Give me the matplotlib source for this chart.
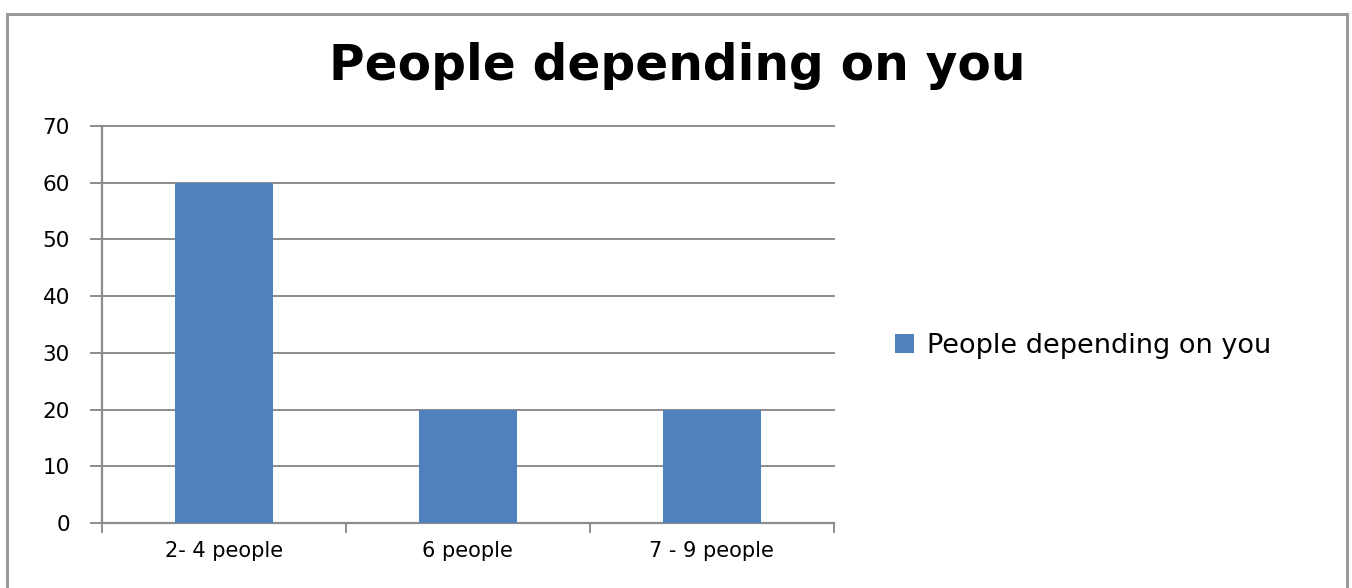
# bar chart of how many people depend on the respondent
import matplotlib as mpl
import matplotlib.pyplot as plt

# data
categories = ['2- 4 people', '6 people', '7 - 9 people']
values = [60, 20, 20]
series_name = 'People depending on you'
title = 'People depending on you'
y_ticks = [0, 10, 20, 30, 40, 50, 60, 70]

mpl.rcParams['font.family'] = 'DejaVu Sans'

fig = plt.figure(figsize=(13.52, 5.88), dpi=100)
ax = fig.add_axes([0.0754, 0.1105, 0.5414, 0.6752])

# outer chart border
fig.patches.append(mpl.patches.Rectangle((7 / 1352, -0.05), 1340 / 1352, 1.05 - 14 / 588,
                                         transform=fig.transFigure, fill=False,
                                         edgecolor='#9a9a9a', linewidth=2.2))

x = range(len(categories))
ax.bar(x, values, width=0.4, color='#4f81bd', label=series_name, zorder=3)

ax.set_xlim(-0.5, 2.5)
ax.set_ylim(0, 70)
ax.set_yticks(y_ticks)
ax.set_yticklabels([str(v) for v in y_ticks], fontsize=15.5)
ax.yaxis.grid(True, color='#8c8c8c', linewidth=1.4, zorder=0, clip_on=False)

# category labels sit between boundary ticks
ax.set_xticks([-0.5, 0.5, 1.5, 2.5])
ax.set_xticklabels([])
ax.set_xticks(list(x), minor=True)
ax.set_xticklabels(categories, minor=True, fontsize=15)
ax.tick_params(axis='x', which='minor', length=0, pad=13)
ax.tick_params(axis='x', which='major', length=7, width=1.4, color='#8c8c8c')
ax.tick_params(axis='y', length=9, width=1.4, color='#8c8c8c', pad=14)

for side in ['top', 'right']:
    ax.spines[side].set_visible(False)
for side in ['left', 'bottom']:
    ax.spines[side].set_color('#8c8c8c')
    ax.spines[side].set_linewidth(1.6)

fig.text(0.501, 0.888, title, ha='center', va='center', fontsize=35, fontweight='bold')

ax.legend(loc='center left', bbox_to_anchor=(1.05, 0.445), frameon=False, fontsize=19.5,
          handlelength=0.7, handleheight=0.7, handletextpad=0.5)

plt.savefig('out.png', dpi=100)
